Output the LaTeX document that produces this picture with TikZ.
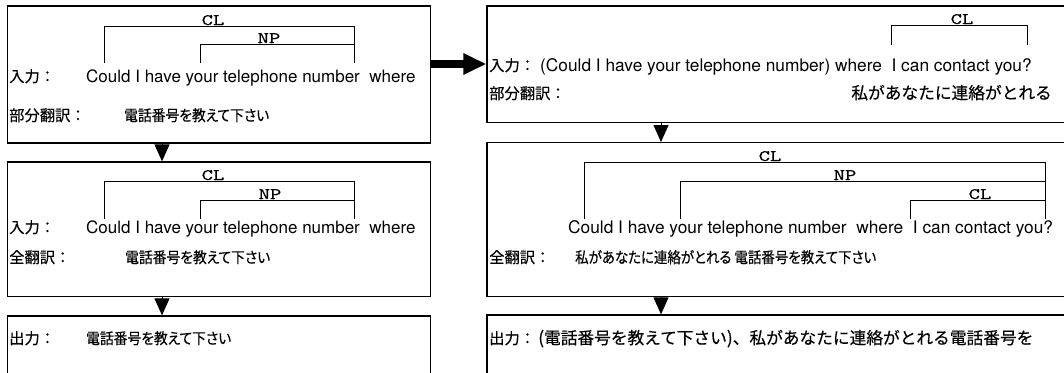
\documentclass[tikz,border=0pt]{standalone}
\usepackage{fontspec}
\setmainfont{TeX Gyre Heros}
\newfontfamily\jpfam[FakeBold=0.3]{Noto Sans CJK JP}
\newfontfamily\jpfamp[RawFeature=+palt, FakeBold=0.3]{Noto Sans CJK JP}
\newfontfamily\labfam[FakeBold=0.5]{lmmono10-regular.otf}
\usetikzlibrary{arrows.meta}
\newcommand\latL{\fontsize{17}{20}\selectfont}
\newcommand\latR{\fontsize{17.3}{20}\selectfont}
\newcommand\jpH{\jpfam\fontsize{15.3}{18}\selectfont}
\newcommand\jpC{\jpfamp\fontsize{15.3}{18}\selectfont}
\newcommand\jpR{\jpfam\fontsize{16.7}{20}\selectfont}
\newcommand\labf{\labfam\fontsize{16}{18}\selectfont}
\newcommand\lab[1]{\scalebox{1.35}[1]{#1}}
\newcommand\nar[2]{\scalebox{#1}[1]{#2}}
\begin{document}
\begin{tikzpicture}[x=1pt,y=-1pt,
  box/.style={draw, line width=1.3pt, inner sep=0pt, rectangle},
  brk/.style={line width=1pt},
  txL/.style={font=\latL, anchor=base west, inner sep=0pt},
  txR/.style={font=\latR, anchor=base west, inner sep=0pt},
  jH/.style={font=\jpH, anchor=base west, inner sep=0pt},
  jC/.style={font=\jpC, anchor=base west, inner sep=0pt},
  jR/.style={font=\jpR, anchor=base west, inner sep=0pt},
  lbl/.style={font=\labf, anchor=base, inner sep=0pt},
  dn/.style={line width=1pt, -{Triangle[width=15pt,length=17pt]}},
  rt/.style={line width=8pt, -{Triangle[width=20pt,length=23pt]}}]
\useasboundingbox (0,0) rectangle (1064,372);
\fill[white] (0,0) rectangle (1064,372);
% boxes
\node[box, minimum width=423.2pt, minimum height=137pt] (L1) at (219.1,74.5) {};
\node[box, minimum width=423.2pt, minimum height=134.7pt] (L2) at (219.1,229.35) {};
\node[box, minimum width=423.2pt, minimum height=90pt] (L3) at (219.1,361) {};
\node[box, minimum width=640pt, minimum height=116.7pt] (R1) at (807,64.35) {};
\node[box, minimum width=640pt, minimum height=154pt] (R2) at (807,219.7) {};
\node[box, minimum width=640pt, minimum height=90pt] (R3) at (807,360) {};
% connectors
\coordinate (ax) at (162,0);
\coordinate (bx) at (661,0);
\coordinate (hy) at (0,64);
\draw[dn] (L1.south -| ax) -- (L2.north -| ax);
\draw[dn] (L2.south -| ax) -- (L3.north -| ax);
\draw[dn] (R1.south -| bx) -- (R2.north -| bx);
\draw[dn] (R2.south -| bx) -- (R3.north -| bx);
\draw[rt] (L1.east |- hy) -- (R1.west |- hy);
% ---- L1
\draw[brk] (104,63) -- (104,26) -- (354,26) -- (354,63);
\draw[brk] (200,63) -- (200,44) -- (354,44);
\node[lbl] (l1cl) at (213,25) {\lab{CL}};
\node[lbl] (l1np) at (269,43) {\lab{NP}};
\node[jH] (l1in) at (9,82) {入力：};
\node[txL] (l1s) at (86,82) {Could I have your telephone number\ \ where};
\node[jH] (l1pt) at (9,121) {部分翻訳：};
\node[jC] (l1pj) at (124,121) {\nar{0.9}{電話番号を教えて下さい}};
% ---- L2
\draw[brk] (104,219) -- (104,181) -- (354,181) -- (354,219);
\draw[brk] (200,219) -- (200,200) -- (354,200);
\node[lbl] (l2cl) at (213,180) {\lab{CL}};
\node[lbl] (l2np) at (270,199) {\lab{NP}};
\node[jH] (l2in) at (9,233) {入力：};
\node[txL] (l2s) at (86,233) {Could I have your telephone number\ \ where};
\node[jH] (l2ft) at (9,263) {全翻訳：};
\node[jC] (l2fj) at (125,263) {\nar{0.9}{電話番号を教えて下さい}};
% ---- L3
\node[jH] (l3out) at (9,344) {出力：};
\node[jC] (l3oj) at (86,344) {\nar{0.9}{電話番号を教えて下さい}};
% ---- R1
\draw[brk] (891,45) -- (891,25) -- (1027,25) -- (1027,45);
\node[lbl] (r1cl) at (962,24) {\lab{CL}};
\node[jH] (r1in) at (489,71) {入力：};
\node[txR] (r1s) at (540,71) {(Could I have your telephone number) where\ \ I can contact you?};
\node[jH] (r1pt) at (489,99) {部分翻訳：};
\node[jR, anchor=base east] (r1pj) at (1052,99) {私があなたに連絡がとれる};
% ---- R2
\draw[brk] (584,219) -- (584,162) -- (1045,162) -- (1045,219);
\draw[brk] (680,219) -- (680,181) -- (1045,181);
\draw[brk] (910,219) -- (910,200) -- (1045,200);
\node[lbl] (r2cl) at (770,161) {\lab{CL}};
\node[lbl] (r2np) at (845,180) {\lab{NP}};
\node[lbl] (r2cl2) at (980,199) {\lab{CL}};
\node[txR] (r2s) at (568,233) {Could I have your telephone number\ \ where\ \ I can contact you?};
\node[jH] (r2ft) at (489,263) {全翻訳：};
\node[jC] (r2fj) at (575,263) {\nar{0.88}{私があなたに連絡がとれる 電話番号を教えて下さい}};
% ---- R3
\node[jH] (r3out) at (489,344) {出力：};
\node[jR] (r3oj) at (538,344) {{\latR(}電話番号を教えて下さい{\latR)}、私があなたに連絡がとれる電話番号を};
\end{tikzpicture}
\end{document}
